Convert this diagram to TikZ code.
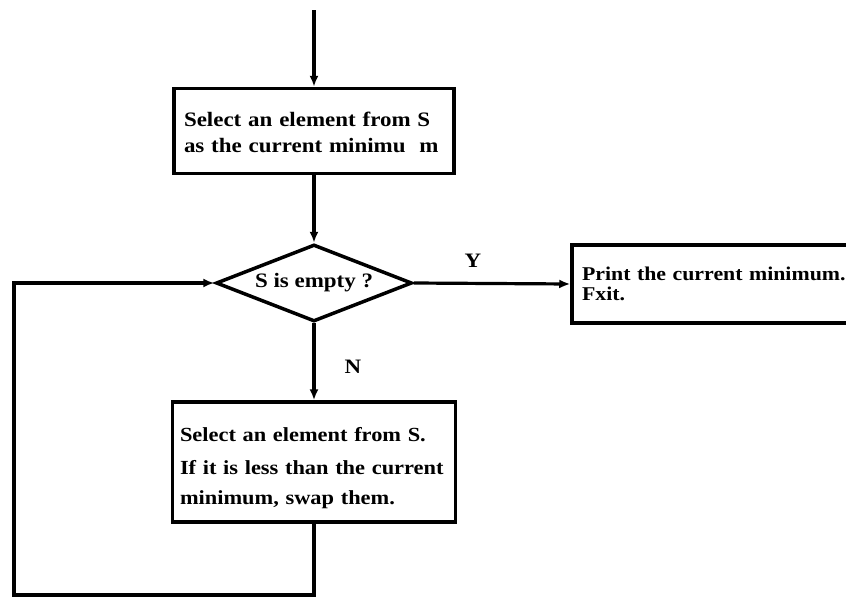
\documentclass[tikz,border=0pt]{standalone}
\usepackage{fontspec}
\setmainfont{Liberation Serif}[FakeStretch=1.12]
\usetikzlibrary{shapes.geometric,arrows.meta}
\begin{document}
\begin{tikzpicture}[x=1pt,y=-1pt,
  every node/.style={font=\bfseries\fontsize{20.5}{26}\selectfont},
  box/.style={draw,line width=3.5pt,rectangle,inner sep=0pt,align=left},
  arr/.style={line width=3.2pt,-{Latex[length=11pt,width=9pt]}},
  lbl/.style={inner sep=0pt}]
\useasboundingbox (0,0) rectangle (846,600);
\clip (0,0) rectangle (846,600);
\fill[white] (0,0) rectangle (846,600);

\node[box,minimum width=280pt,minimum height=85pt,text width=260pt] (b1) at (314,131)
  {\rule{0pt}{18pt}Select an element from S\\as the current minimu\ \ m};
\node[diamond,draw,line width=3.5pt,shape aspect=2.55,minimum width=196pt,minimum height=77pt,inner sep=0pt] (d) at (314,283)
  {S is empty ?};
\node[box,minimum width=283pt,minimum height=120pt,text width=268pt,
  font=\bfseries\fontsize{20}{30}\selectfont] (b3) at (314,462)
  {\rule{0pt}{26pt}Select an element from S.\\[3pt]If it is less than the current\\minimum, swap them.};
\node[box,minimum width=290pt,minimum height=78pt,text width=270pt,
  font=\bfseries\fontsize{19.5}{20}\selectfont] (p) at (717,284)
  {Print the current minimum.\\Fxit.};

\node[lbl] (ylab) at (473,261) {Y};
\node[lbl] (nlab) at (353,367) {N};

\coordinate (top) at (314,10);
\coordinate (lb) at (14,595);

\draw[arr] (top) -- (b1.north);
\draw[arr] (b1.south) -- (d.north);
\draw[arr] (d.east) -- (p.west);
\draw[arr] (d.south) -- (b3.north);
\draw[arr] (b3.south) |- (lb) |- (d.west);
\end{tikzpicture}
\end{document}
